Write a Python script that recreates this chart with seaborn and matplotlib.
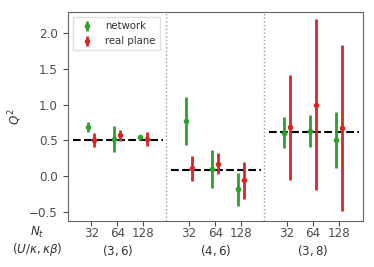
import numpy as np
import matplotlib
matplotlib.use("Agg")
import matplotlib.pyplot as plt
import matplotlib.transforms as mtransforms
import seaborn as sns

# donnees
groups = ["$(3,6)$", "$(4,6)$", "$(3,8)$"]
nt_labels = ["32", "64", "128"]
target = [0.50, 0.09, 0.62]

net_val = [0.69, 0.52, 0.54, 0.77, 0.095, -0.19, 0.605, 0.63, 0.50]
net_err = [0.07, 0.18, 0.04, 0.335, 0.27, 0.23, 0.215, 0.22, 0.39]
real_val = [0.50, 0.57, 0.52, 0.11, 0.17, -0.06, 0.68, 1.00, 0.67]
real_err = [0.10, 0.075, 0.095, 0.175, 0.145, 0.26, 0.735, 1.20, 1.165]

sns.set_style("ticks", {"axes.edgecolor": "0.4", "xtick.color": "0.3", "ytick.color": "0.3",
                        "text.color": "0.2", "axes.labelcolor": "0.2"})
plt.rcParams["font.size"] = 8.6

green, red = sns.color_palette("tab10")[2], sns.color_palette("tab10")[3]

fig = plt.figure(figsize=(3.74, 2.67), dpi=100)
ax = fig.add_axes([0.181, 0.173, 0.789, 0.782])

step = 3.75
pos = np.array([g * step + i for g in range(len(groups)) for i in range(len(nt_labels))])
dx = 0.12

ax.errorbar(pos - dx, net_val, yerr=net_err, fmt="o", color=green, ms=3,
            elinewidth=2, label="network")
ax.errorbar(pos + dx, real_val, yerr=real_err, fmt="o", color=red, ms=3,
            elinewidth=2, label="real plane")

for g, t in enumerate(target):
    c = g * step + 1
    ax.hlines(t, c - 1.7, c + 1.75, colors="k", linestyles="--", lw=1.5, zorder=0)
    if g > 0:
        ax.axvline(g * step - (step - 2) / 2, color="0.6", ls=":", lw=1)

ax.set_xticks(pos)
ax.set_xticklabels(nt_labels * len(groups))
ax.tick_params(axis="x", pad=1)
ax.set_xlim(-0.9, pos[-1] + 0.9)
ax.set_ylim(-0.63, 2.3)
ax.set_yticks([-0.5, 0, 0.5, 1, 1.5, 2])
ax.set_ylabel("$Q^2$")

trans = mtransforms.blended_transform_factory(ax.transData, fig.transFigure)
for g, name in enumerate(groups):
    ax.text(g * step + 1, 1 - 250 / 267, name, transform=trans, ha="center", va="center")
ax.text(37 / 374, 1 - 232 / 267, "$N_t$", transform=fig.transFigure, ha="center",
        va="center")
ax.text(37 / 374, 1 - 250 / 267, r"$(U/\kappa,\kappa\beta)$", transform=fig.transFigure,
        ha="center", va="center")

ax.legend(loc="upper left", fancybox=False, edgecolor="0.85", fontsize=7.3)

fig.savefig("out.png", dpi=100)
